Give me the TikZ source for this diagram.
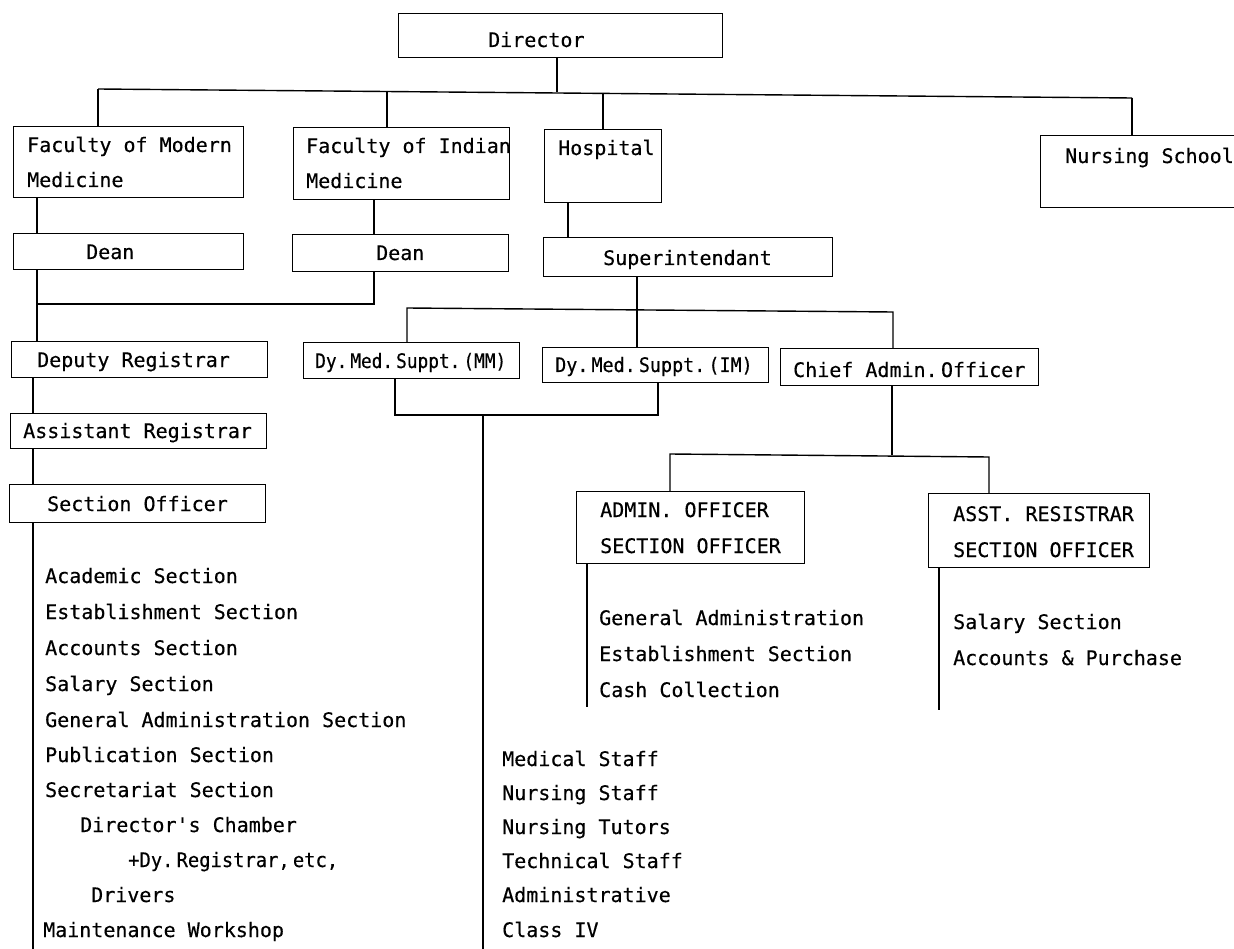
\documentclass[tikz,border=0pt]{standalone}
\usepackage{fontspec}
\newfontfamily\chartfont[FakeBold=0.4]{DejaVu Sans Mono}
\begin{document}
\begin{tikzpicture}[x=1pt,y=-1pt,
  box/.style={draw, line width=1.4pt, anchor=north west, inner sep=0pt},
  link/.style={draw, line width=1.4pt},
  txt/.style={anchor=base west, inner sep=0pt, font=\chartfont\fontsize{20}{24}\selectfont}]
\useasboundingbox (0,0) rectangle (1234,949);
\fill[white] (0,0) rectangle (1234,949);

% ---------- boxes ----------
\node[box, minimum width=324pt, minimum height=44pt] (director) at (398,13) {};
\node[box, minimum width=230pt, minimum height=71pt] (fmm) at (13,126) {};
\node[box, minimum width=216pt, minimum height=72pt] (fim) at (293,127) {};
\node[box, minimum width=117pt, minimum height=73pt] (hosp) at (544,129) {};
\node[box, minimum width=200pt, minimum height=72pt] (nurs) at (1040,135) {};
\node[box, minimum width=230pt, minimum height=36pt] (deanm) at (13,233) {};
\node[box, minimum width=216pt, minimum height=37pt] (deani) at (292,234) {};
\node[box, minimum width=289pt, minimum height=39pt] (supt) at (543,237) {};
\node[box, minimum width=256pt, minimum height=36pt] (depreg) at (11,341) {};
\node[box, minimum width=256pt, minimum height=35pt] (asstreg) at (10,413) {};
\node[box, minimum width=256pt, minimum height=38pt] (secoff) at (9,484) {};
\node[box, minimum width=216pt, minimum height=36pt] (dymm) at (303,342) {};
\node[box, minimum width=226pt, minimum height=35pt] (dyim) at (542,347) {};
\node[box, minimum width=258pt, minimum height=37pt] (cao) at (780,348) {};
\node[box, minimum width=228pt, minimum height=72pt] (admoff) at (576,491) {};
\node[box, minimum width=221pt, minimum height=74pt] (asres) at (928,493) {};

% ---------- box texts ----------
\node[txt] (director-t) at (488,47) {Director};
\node[txt] (fmm-t1) at (27,152) {Faculty of Modern};
\node[txt] (fmm-t2) at (27,187) {Medicine};
\node[txt] (fim-t1) at (306,153) {Faculty of Indian};
\node[txt] (fim-t2) at (306,188) {Medicine};
\node[txt] (hosp-t) at (558,155) {Hospital};
\node[txt] (nurs-t) at (1065,163) {Nursing School};
\node[txt] (deanm-t) at (86,259) {Dean};
\node[txt] (deani-t) at (376,260) {Dean};
\node[txt] (supt-t) at (603,265) {Superintendant};
\node[txt] (depreg-t) at (37,367) {Deputy Registrar};
\node[txt] (asstreg-t) at (23,438) {Assistant Registrar};
\node[txt] (secoff-t) at (47,511) {Section Officer};
\node[txt] (dymm-t) at (315,368) {\scalebox{0.89}[1]{Dy.\,Med.\,Suppt.\,(MM)}};
\node[txt] (dyim-t) at (555,372) {\scalebox{0.92}[1]{Dy.\,Med.\,Suppt.\,(IM)}};
\node[txt] (cao-t) at (793,377) {Chief Admin.\,Officer};
\node[txt] (admoff-t1) at (600,517) {ADMIN. OFFICER};
\node[txt] (admoff-t2) at (600,553) {SECTION OFFICER};
\node[txt] (asres-t1) at (953,521) {ASST. RESISTRAR};
\node[txt] (asres-t2) at (953,557) {SECTION OFFICER};

% ---------- lists ----------
\node[txt] (l1) at (45,583) {Academic Section};
\node[txt] (l2) at (45,619) {Establishment Section};
\node[txt] (l3) at (45,655) {Accounts Section};
\node[txt] (l4) at (45,691) {Salary Section};
\node[txt] (l5) at (45,727) {General Administration Section};
\node[txt] (l6) at (45,762) {Publication Section};
\node[txt] (l7) at (45,797) {Secretariat Section};
\node[txt] (l8) at (80,832) {Director's Chamber};
\node[txt] (l9) at (128,867) {\scalebox{0.94}[1]{+Dy.\,Registrar,\,etc,}};
\node[txt] (l10) at (91,902) {Drivers};
\node[txt] (l11) at (43,937) {Maintenance Workshop};

\node[txt] (m1) at (502,766) {Medical Staff};
\node[txt] (m2) at (502,800) {Nursing Staff};
\node[txt] (m3) at (502,834) {Nursing Tutors};
\node[txt] (m4) at (502,868) {Technical Staff};
\node[txt] (m5) at (502,902) {Administrative};
\node[txt] (m6) at (502,937) {Class IV};

\node[txt] (a1) at (599,625) {General Administration};
\node[txt] (a2) at (599,661) {Establishment Section};
\node[txt] (a3) at (599,697) {Cash Collection};

\node[txt] (r1) at (953,629) {Salary Section};
\node[txt] (r2) at (953,665) {Accounts \& Purchase};

% ---------- junction coordinates ----------
\coordinate (jF1) at (98,89);
\coordinate (jF2) at (387,91);
\coordinate (jD) at (557,92);
\coordinate (jH) at (603,93);
\coordinate (jN) at (1132,98);
\coordinate (cFM) at (37,304);
\coordinate (cFI) at (374,304);
\coordinate (cReg) at (33,949);
\coordinate (cH) at (568,220);
\coordinate (cS) at (637,310);
\coordinate (sb1) at (407,308);
\coordinate (sb2) at (893,312);
\coordinate (dm1) at (395,415);
\coordinate (dm2) at (658,415);
\coordinate (dmx) at (483,415);
\coordinate (dmEnd) at (483,949);
\coordinate (cb) at (892,455);
\coordinate (cb1) at (670,454);
\coordinate (cb2) at (989,457);
\coordinate (aEnd) at (587,707);
\coordinate (rEnd) at (939,710);

% ---------- connectors ----------
\draw[link] (jF1) -- (jN);
\draw[link] (director.south -| jD) -- (jD);
\draw[link] (jF1) -- (jF1 |- fmm.north);
\draw[link] (jF2) -- (jF2 |- fim.north);
\draw[link] (jH) -- (jH |- hosp.north);
\draw[link] (jN) -- (jN |- nurs.north);

\draw[link] (fmm.south -| cFM) -- (deanm.north -| cFM);
\draw[link] (fim.south -| cFI) -- (deani.north -| cFI);
\draw[link] (deanm.south -| cFM) -- (cFM) -- (cFI) -- (deani.south -| cFI);
\draw[link] (cFM) -- (depreg.north -| cFM);
\draw[link] (depreg.south -| cReg) -- (asstreg.north -| cReg);
\draw[link] (asstreg.south -| cReg) -- (secoff.north -| cReg);
\draw[link] (secoff.south -| cReg) -- (cReg);

\draw[link] (hosp.south -| cH) -- (supt.north -| cH);
\draw[link] (supt.south -| cS) -- (dyim.north -| cS);
\draw[link] (dymm.north -| sb1) -- (sb1) -- (sb2) -- (cao.north -| sb2);

\draw[link] (dymm.south -| dm1) -- (dm1) -- (dm2) -- (dyim.south -| dm2);
\draw[link] (dmx) -- (dmEnd);

\draw[link] (cao.south -| cb) -- (cb);
\draw[link] (admoff.north -| cb1) -- (cb1) -- (cb2) -- (asres.north -| cb2);
\draw[link] (admoff.south -| aEnd) -- (aEnd);
\draw[link] (asres.south -| rEnd) -- (rEnd);
\end{tikzpicture}
\end{document}
